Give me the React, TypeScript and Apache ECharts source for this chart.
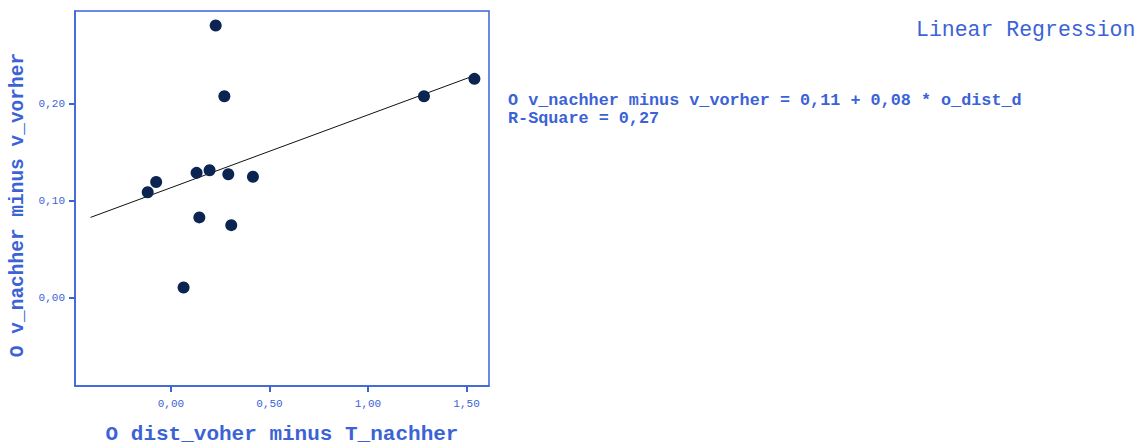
import React, { useEffect, useRef } from "react";
import * as echarts from "echarts";

const xValues = [0.227, 0.271, 1.284, 1.54, -0.118, -0.075, 0.13, 0.196, 0.291, 0.416, 0.144, 0.306, 0.064];
const yValues = [0.281, 0.208, 0.208, 0.226, 0.109, 0.1195, 0.129, 0.1316, 0.1275, 0.125, 0.083, 0.075, 0.0107];
const fitX = [-0.408, 1.535];
const fitY = [0.083, 0.229];
const xTicks = [0, 0.5, 1, 1.5];
const yTicks = [0, 0.1, 0.2];
const xTitle = "O dist_voher minus T_nachher";
const yTitle = "O v_nachher minus v_vorher";
const equationLines = ["O v_nachher minus v_vorher = 0,11 + 0,08 * o_dist_d", "R-Square = 0,27"];
const legendTitle = "Linear Regression";

const BLUE = "#3b63d6";
const MONO = "'Liberation Mono', 'DejaVu Sans Mono', monospace";
const fmt = (v: number) => v.toFixed(2).replace(".", ",");

export default function App() {
  const ref = useRef<HTMLDivElement>(null);
  useEffect(() => {
    const chart = echarts.init(ref.current!, null, { renderer: "svg" });
    chart.setOption({
      animation: false,
      backgroundColor: "#ffffff",
      grid: {
        left: 75, top: 11, width: 414, height: 375,
        containLabel: false, outerBoundsMode: "none",
        show: true, borderColor: BLUE, borderWidth: 1.5, backgroundColor: "transparent",
      },
      xAxis: {
        type: "value",
        min: -0.487,
        max: 1.614,
        splitLine: { show: false },
        axisLine: { show: true, onZero: false, lineStyle: { color: BLUE, width: 1.5 } },
        axisTick: { show: true, length: 6, customValues: xTicks, lineStyle: { color: BLUE, width: 2 } },
        axisLabel: { customValues: xTicks, formatter: fmt, color: BLUE, fontFamily: MONO, fontSize: 11, margin: 12 },
        name: xTitle,
        nameLocation: "middle",
        nameGap: 38,
        nameTextStyle: { color: BLUE, fontFamily: MONO, fontWeight: "bold", fontSize: 21 },
      },
      yAxis: {
        type: "value",
        min: -0.091,
        max: 0.296,
        splitLine: { show: false },
        axisLine: { show: true, onZero: false, lineStyle: { color: BLUE, width: 1.5 } },
        axisTick: { show: true, length: 6, customValues: yTicks, lineStyle: { color: BLUE, width: 2 } },
        axisLabel: { customValues: yTicks, formatter: fmt, color: BLUE, fontFamily: MONO, fontSize: 11, margin: 10 },
        name: yTitle,
        nameLocation: "middle",
        nameGap: 47,
        nameTextStyle: { color: BLUE, fontFamily: MONO, fontWeight: "bold", fontSize: 19.5, padding: [0, 13, 0, 0] },
      },
      series: [
        {
          type: "line",
          data: fitX.map((x, i) => [x, fitY[i]]),
          symbol: "none",
          lineStyle: { color: "#111111", width: 1 },
          z: 1,
        },
        {
          type: "scatter",
          data: xValues.map((x, i) => [x, yValues[i]]),
          symbolSize: 12,
          itemStyle: { color: "#0c2452", opacity: 1 },
          z: 2,
        },
      ],
      graphic: [
        {
          type: "text",
          left: 916,
          top: 19,
          style: { text: legendTitle, fill: BLUE, font: `21.5px ${MONO}` },
        },
        {
          type: "text",
          left: 508,
          top: 91,
          style: { text: equationLines.join("\n"), fill: BLUE, font: `bold 16.8px ${MONO}`, lineHeight: 18 },
        },
      ],
    });
    return () => chart.dispose();
  }, []);
  return <div ref={ref} style={{ position: "absolute", left: 0, top: 0, width: 1146, height: 446 }} />;
}
